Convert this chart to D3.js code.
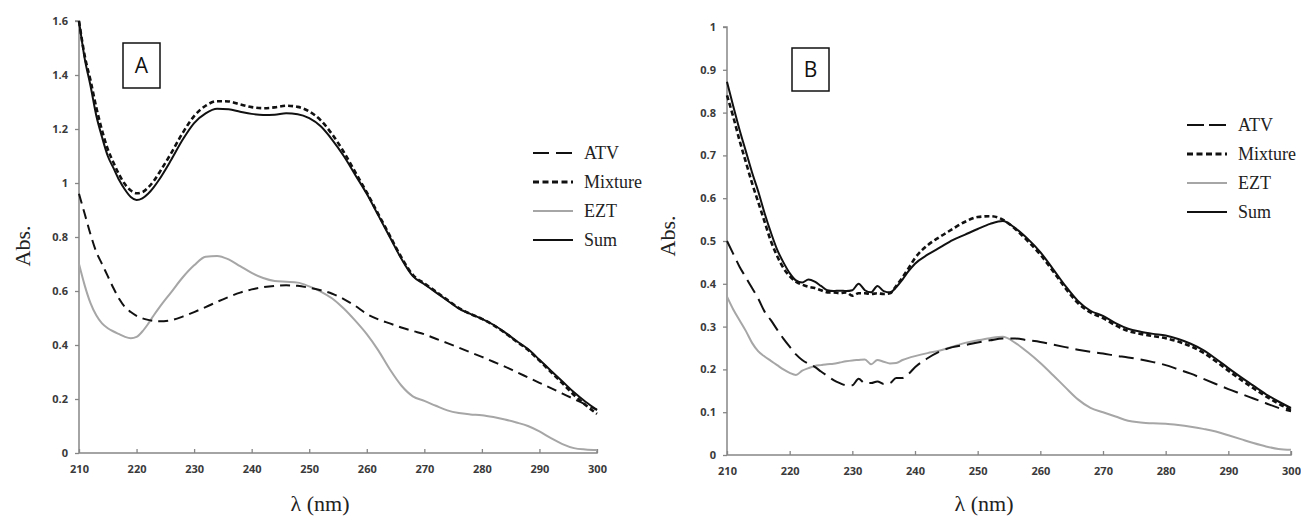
<!DOCTYPE html>
<html>
<head>
<meta charset="utf-8">
<script src="https://cdnjs.cloudflare.com/ajax/libs/d3/7.8.5/d3.min.js"></script>
<style>
body{margin:0;background:#fff;}
svg{display:block;}
</style>
</head>
<body>
<script>
// panel A data
var wlA=[210,211,212,213,214,215,216,217,218,219,220,221,222,223,224,
226,228,230,232,234,236,238,240,242,244,246,248,250,252,254,256,258,260,
262,264,266,268,270,272,274,276,278,280,282,284,286,288,290,292,294,296,298,300];
var atvA=[0.96,0.885,0.81,0.745,0.70,0.655,0.61,0.57,0.54,0.522,0.508,0.499,0.493,0.489,0.488,
0.492,0.505,0.522,0.54,0.56,0.578,0.594,0.606,0.614,0.619,0.621,0.619,0.612,0.603,0.59,0.57,0.545,0.515,
0.495,0.48,0.465,0.452,0.44,0.423,0.407,0.39,0.373,0.356,0.338,0.32,0.30,0.28,0.26,0.24,0.22,0.20,0.18,0.16];
var mixA=[1.6,1.47,1.38,1.28,1.195,1.125,1.075,1.03,0.995,0.972,0.962,0.966,0.983,1.008,1.04,
1.11,1.185,1.248,1.286,1.303,1.302,1.291,1.281,1.277,1.28,1.286,1.282,1.265,1.232,1.18,1.115,1.04,0.965,
0.885,0.805,0.725,0.66,0.628,0.598,0.567,0.537,0.515,0.497,0.474,0.445,0.413,0.382,0.342,0.30,0.258,0.215,0.178,0.145];
var eztA=[0.70,0.62,0.555,0.51,0.48,0.462,0.45,0.44,0.43,0.425,0.43,0.45,0.478,0.51,0.54,
0.595,0.65,0.695,0.727,0.73,0.717,0.692,0.667,0.648,0.637,0.634,0.631,0.617,0.598,0.572,0.535,0.49,0.44,
0.38,0.31,0.25,0.21,0.193,0.175,0.158,0.148,0.143,0.14,0.133,0.124,0.113,0.10,0.08,0.055,0.033,0.018,0.013,0.011];
var sumA=[1.6,1.46,1.36,1.25,1.17,1.10,1.055,1.01,0.975,0.948,0.937,0.943,0.96,0.985,1.015,
1.085,1.16,1.222,1.258,1.275,1.273,1.264,1.256,1.252,1.253,1.258,1.255,1.24,1.21,1.16,1.10,1.03,0.96,
0.88,0.80,0.72,0.655,0.625,0.595,0.565,0.535,0.515,0.497,0.475,0.447,0.415,0.385,0.345,0.305,0.265,0.225,0.19,0.16];

// panel B data
var wlB=[210,211,212,213,214,215,216,217,218,219,220,221,222,223,224,225,226,227,228,229,
230,231,232,233,234,235,236,237,238,239,240,
242,244,246,248,250,252,254,256,258,260,262,264,266,268,270,272,274,276,278,280,
282,284,286,288,290,292,294,296,298,300];
var atvB=[0.50,0.47,0.44,0.415,0.39,0.365,0.335,0.315,0.293,0.272,0.253,0.235,0.222,0.213,0.206,0.195,0.185,0.175,0.168,0.163,
0.163,0.178,0.168,0.168,0.172,0.166,0.168,0.18,0.18,0.19,0.205,
0.226,0.242,0.252,0.257,0.263,0.268,0.272,0.272,0.268,0.264,0.258,0.252,0.246,0.241,0.237,0.232,0.228,0.223,0.217,0.21,
0.20,0.19,0.178,0.166,0.154,0.143,0.132,0.121,0.11,0.102];
var mixB=[0.84,0.79,0.735,0.685,0.635,0.59,0.545,0.50,0.465,0.437,0.418,0.405,0.398,0.393,0.39,0.385,0.38,0.38,0.378,0.38,
0.372,0.378,0.378,0.376,0.378,0.376,0.378,0.395,0.415,0.437,0.46,
0.49,0.51,0.528,0.545,0.556,0.558,0.55,0.528,0.50,0.468,0.43,0.39,0.355,0.333,0.32,0.303,0.29,0.283,0.278,0.273,
0.265,0.254,0.239,0.219,0.197,0.176,0.156,0.137,0.12,0.105];
var eztB=[0.37,0.34,0.315,0.29,0.262,0.242,0.23,0.22,0.21,0.20,0.192,0.187,0.197,0.203,0.208,0.21,0.212,0.213,0.216,0.219,
0.221,0.222,0.223,0.212,0.222,0.218,0.214,0.215,0.222,0.227,0.231,
0.238,0.244,0.253,0.262,0.268,0.273,0.276,0.262,0.24,0.215,0.187,0.158,0.13,0.11,0.10,0.09,0.08,0.076,0.074,0.073,
0.07,0.066,0.061,0.055,0.046,0.037,0.028,0.02,0.014,0.012];
var sumB=[0.872,0.815,0.76,0.71,0.66,0.615,0.565,0.52,0.48,0.45,0.425,0.408,0.403,0.41,0.405,0.395,0.385,0.383,0.384,0.383,
0.385,0.40,0.385,0.38,0.395,0.383,0.38,0.392,0.41,0.43,0.447,
0.468,0.485,0.502,0.515,0.528,0.54,0.547,0.53,0.505,0.474,0.435,0.395,0.36,0.337,0.325,0.308,0.295,0.288,0.283,0.279,
0.271,0.26,0.245,0.225,0.203,0.182,0.162,0.142,0.125,0.11];

var seriesNames=["ATV","Mixture","EZT","Sum"];
var xTicks=[210,220,230,240,250,260,270,280,290,300];
var yTicksA=[0,0.2,0.4,0.6,0.8,1,1.2,1.4,1.6];
var yTicksB=[0,0.1,0.2,0.3,0.4,0.5,0.6,0.7,0.8,0.9,1];

var width=1301;
var height=517;
var svg=d3.select("body").append("svg").attr("width",width).attr("height",height);

function drawPanel(p){
    var x=d3.scaleLinear().domain([210,300]).range([p.left,p.right]);
    var y=d3.scaleLinear().domain([0,p.ymax]).range([p.bottom,p.top]);
    var g=svg.append("g");

    // axes
    var yAxis=g.append("g").attr("transform","translate("+p.left+",0)")
        .call(d3.axisLeft(y).tickValues(p.yTicks).tickSize(4).tickPadding(7).tickFormat(d3.format("")));
    var xAxis=g.append("g").attr("transform","translate(0,"+p.bottom+")")
        .call(d3.axisBottom(x).tickValues(xTicks).tickSize(-4).tickPadding(12));
    [yAxis,xAxis].forEach(function(a){
        a.select(".domain").attr("stroke","#868686").attr("stroke-width",1.5);
        a.selectAll(".tick line").attr("stroke","#868686").attr("stroke-width",1.3);
        a.selectAll(".tick text").attr("fill","#3a3a3a").attr("font-family","'Open Sans',sans-serif")
            .attr("font-weight","bold").attr("font-size","11px");
    });
    yAxis.select(".domain").attr("d","M-4,"+p.top+"H0V"+p.bottom);
    xAxis.select(".domain").attr("d","M"+p.left+",0H"+p.right+"V-4");

    // curves
    var line=d3.line()
        .x(function(d){return x(d[0]);})
        .y(function(d){return y(d[1]);})
        .curve(d3.curveMonotoneX);
    var styles=[
        {color:"#111",w:2,dash:p.atvDash},
        {color:"#111",w:2.6,dash:"5,3"},
        {color:"#a6a6a6",w:2,dash:null},
        {color:"#111",w:2,dash:null}
    ];
    var order=[2,0,3,1];
    order.forEach(function(i){
        var pts=p.wl.map(function(w,k){return [w,p.series[i][k]];});
        g.append("path").attr("d",line(pts)).attr("fill","none")
            .attr("stroke",styles[i].color).attr("stroke-width",styles[i].w)
            .attr("stroke-dasharray",styles[i].dash);
    });

    // legend
    seriesNames.forEach(function(name,i){
        var ly=p.legY+i*29;
        g.append("line").attr("x1",p.legX).attr("x2",p.legX+40).attr("y1",ly).attr("y2",ly)
            .attr("stroke",styles[i].color).attr("stroke-width",i==1?2.8:2.2)
            .attr("stroke-dasharray",i==0?p.legAtvDash:(i==1?"6,3.5":null));
        g.append("text").attr("x",p.legX+51).attr("y",ly).attr("dy","0.35em")
            .attr("font-family","'Liberation Serif','Times New Roman',serif").attr("font-size","18px")
            .attr("fill","#222").text(name);
    });

    // panel letter box
    g.append("rect").attr("x",p.box[0]).attr("y",p.box[1]).attr("width",p.box[2]).attr("height",p.box[3])
        .attr("fill","none").attr("stroke","#111").attr("stroke-width",1.5);
    g.append("text").attr("x",p.box[0]+p.box[2]/2).attr("y",p.box[1]+p.box[3]/2).attr("dy","0.36em")
        .attr("text-anchor","middle").attr("font-family","'Open Sans',sans-serif").attr("font-size","21px")
        .attr("fill","#111").text(p.letter);

    // axis titles
    g.append("text").attr("x",p.xTitle[0]).attr("y",p.xTitle[1]).attr("text-anchor","middle")
        .attr("font-family","'Liberation Serif','Times New Roman',serif").attr("font-size","22px")
        .attr("fill","#222").text("λ (nm)");
    g.append("text").attr("transform","translate("+p.yTitle[0]+","+p.yTitle[1]+") rotate(-90)")
        .attr("text-anchor","middle").attr("dy","0.35em")
        .attr("font-family","'Liberation Serif','Times New Roman',serif").attr("font-size","22px")
        .attr("fill","#222").text("Abs.");
}

drawPanel({left:79,right:597,top:21,bottom:453,ymax:1.6,yTicks:yTicksA,
    wl:wlA,series:[atvA,mixA,eztA,sumA],atvDash:"10,6",legAtvDash:"16,7",
    legX:533,legY:153,box:[123,43,37,45],letter:"A",xTitle:[320,511],yTitle:[22,246]});
drawPanel({left:727,right:1291,top:27,bottom:455,ymax:1,yTicks:yTicksB,
    wl:wlB,series:[atvB,mixB,eztB,sumB],atvDash:"15,7",legAtvDash:"17,5",
    legX:1187,legY:125,box:[792,48,37,43],letter:"B",xTitle:[984,511],yTitle:[667,236]});
</script>
</body>
</html>
